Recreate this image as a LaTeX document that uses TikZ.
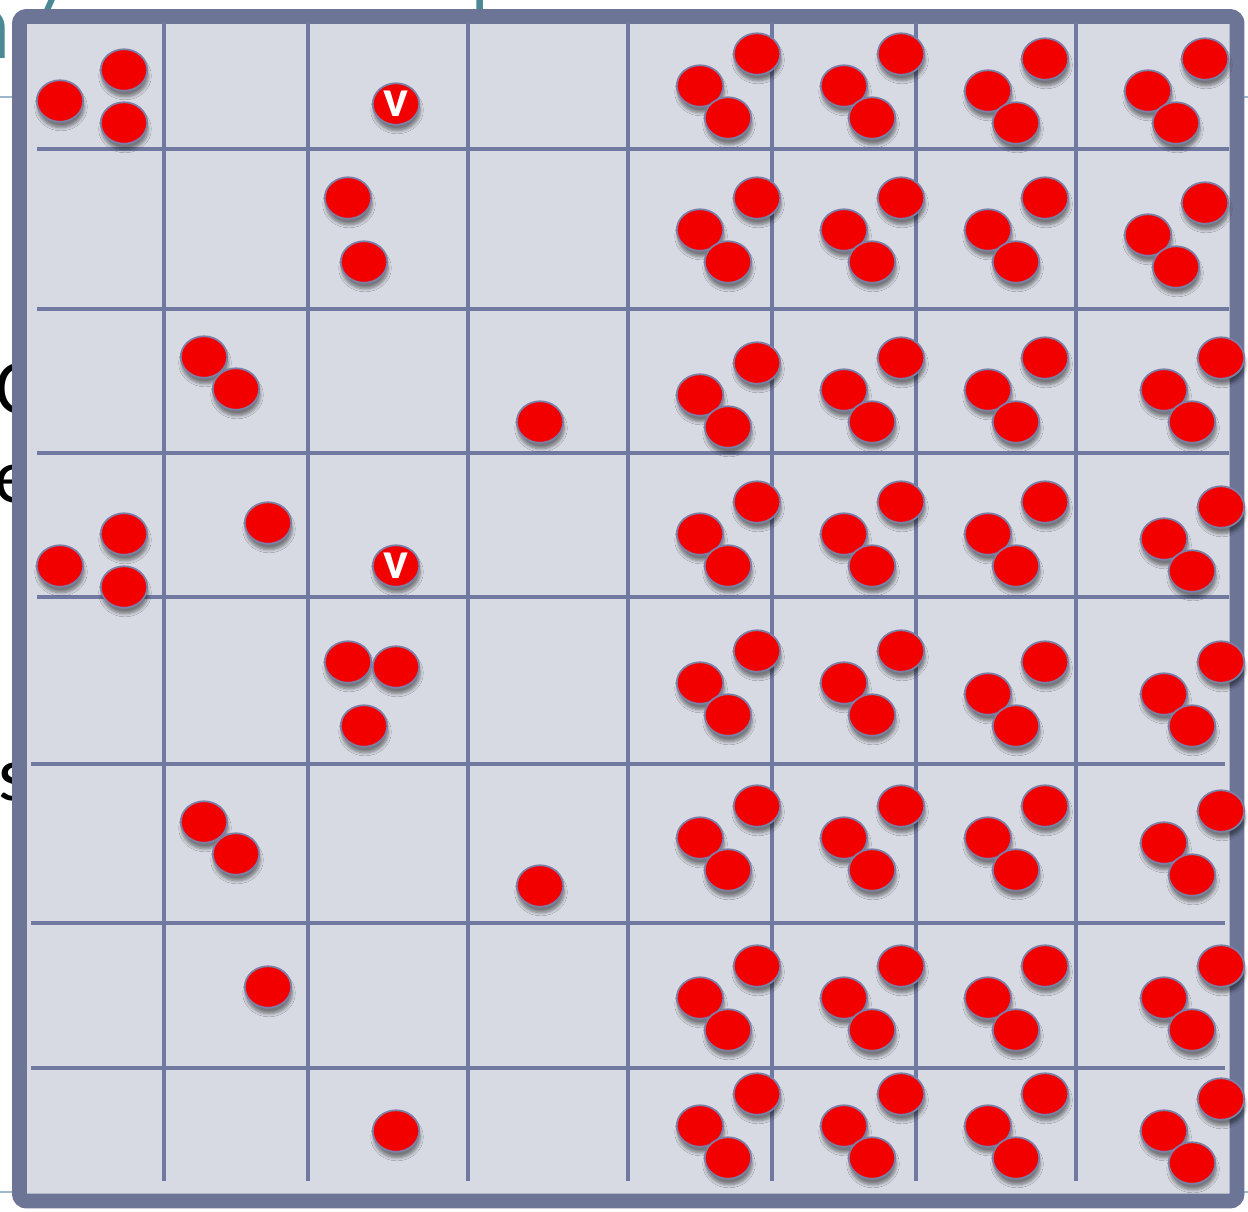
\documentclass[tikz,border=0pt]{standalone}
\usepackage{fontspec}
\newfontfamily\slidefont{Carlito}
\usepackage{tikz}
\usetikzlibrary{shapes.geometric}
\usetikzlibrary{shadows.blur}

\definecolor{cellfill}{HTML}{D7DAE2}
\definecolor{frameblue}{HTML}{6D7597}
\definecolor{gridblue}{HTML}{7079A0}
\definecolor{dotred}{HTML}{F20000}
\definecolor{dotrim}{HTML}{7C80A6}
\definecolor{titleteal}{HTML}{4B8A95}
\definecolor{rulelight}{HTML}{9DB7CC}

\begin{document}
\begin{tikzpicture}[x=0.02cm, y=-0.02cm]
	
	\useasboundingbox (0,0) rectangle (1248,1211);
	
	\tikzstyle{dot}=[ellipse, draw=dotrim, line width=1pt, fill=dotred, minimum width=0.93cm, minimum height=0.83cm, inner sep=0pt,
		blur shadow={shadow xshift=0.02cm, shadow yshift=-0.12cm, shadow blur steps=6, shadow opacity=45}]
	\tikzstyle{vdot}=[dot, text=white, font=\slidefont\bfseries\fontsize{30}{30}\selectfont]
	\tikzstyle{gridline}=[gridblue, line width=2.1pt]
	\tikzstyle{behind}=[inner sep=0pt, font=\slidefont\fontsize{44}{48}\selectfont]
	
	% bits of the slide behind the box
	\draw[rulelight, line width=0.6pt] (0,97) -- (1248,97);
	\draw[rulelight, line width=0.6pt] (0,1192) -- (1248,1192);
	\node[behind, titleteal, anchor=base east, font=\slidefont\fontsize{56}{60}\selectfont] (tn) at (12,58) {n};
	\node[behind, titleteal, anchor=base, font=\slidefont\fontsize{56}{60}\selectfont] (tslash) at (40,58) {/};
	\node[behind, titleteal, anchor=base, font=\slidefont\fontsize{56}{60}\selectfont] (tbar) at (480,58) {|};
	\node[behind, anchor=base] (lc) at (16,413) {C};
	\node[behind, anchor=base] (le) at (14,502) {e};
	\node[behind, anchor=base] (ls) at (14,800) {s};
	
	% the box
	\draw[frameblue, line width=8.5pt, fill=cellfill, rounded corners=4pt] (19.5,16.5) rectangle (1237,1201);
	
	\foreach \gx in {164,308,468,628,772,916,1076}
		\draw[gridline] (\gx,22) -- (\gx,1181);
	\foreach \gy in {149,309,453,597}
		\draw[gridline] (37,\gy) -- (1229,\gy);
	\foreach \gy in {764,923,1068}
		\draw[gridline] (31,\gy) -- (1225,\gy);
	
	% left half
	\node[dot] (a1) at (60,101) {};
	\node[dot] (a2) at (124,70) {};
	\node[dot] (a3) at (124,123) {};
	\node[vdot] (v1) at (396,104) {v};
	
	\node[dot] (b1) at (348,198) {};
	\node[dot] (b2) at (364,262) {};
	
	\node[dot] (c1) at (204,357) {};
	\node[dot] (c2) at (236,389) {};
	\node[dot] (c3) at (540,422) {};
	
	\node[dot] (d1) at (60,566) {};
	\node[dot] (d2) at (124,534) {};
	\node[dot] (d3) at (124,587) {};
	\node[dot] (d4) at (268,523) {};
	\node[vdot] (v2) at (396,566) {v};
	
	\node[dot] (e1) at (348,662) {};
	\node[dot] (e2) at (396,667) {};
	\node[dot] (e3) at (364,726) {};
	
	\node[dot] (f1) at (204,822) {};
	\node[dot] (f2) at (236,854) {};
	\node[dot] (f3) at (540,886) {};
	
	\node[dot] (g1) at (268,987) {};
	
	\node[dot] (h1) at (396,1131) {};
	
	% right half, three to a cell
	\foreach \tx/\ty [count=\k] in {700/86, 844/86, 988/91, 1148/91,
		700/230, 844/230, 988/230, 1148/235,
		700/395, 844/390, 988/390, 1164/390,
		700/534, 844/534, 988/534, 1164/539,
		700/683, 844/683, 988/694, 1164/694,
		700/838, 844/838, 988/838, 1164/843,
		700/998, 844/998, 988/998, 1164/998,
		700/1126, 844/1126, 988/1126, 1164/1131}
	{
		\node[dot] (t\k-a) at (\tx,\ty) {};
		\node[dot] (t\k-b) at (\tx+57,\ty-32) {};
		\node[dot] (t\k-c) at (\tx+28,\ty+32) {};
	}
	
\end{tikzpicture}
\end{document}
